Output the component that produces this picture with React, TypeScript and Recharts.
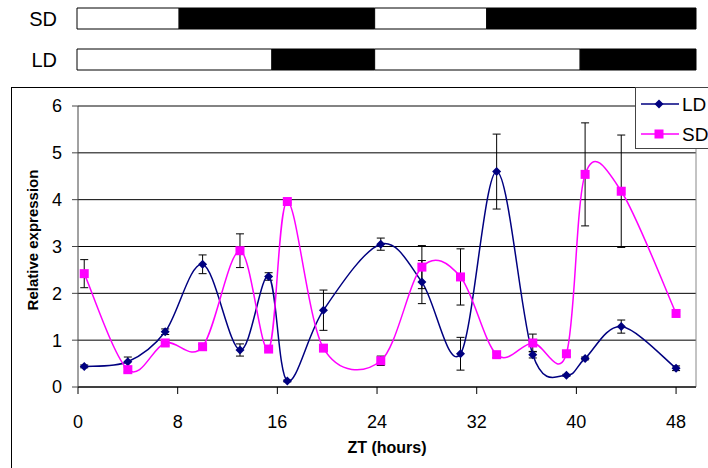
import {
  BarChart,
  Bar,
  LineChart,
  Line,
  XAxis,
  YAxis,
  CartesianGrid,
  ErrorBar,
  ReferenceLine,
  Legend,
} from 'recharts';

// sampling times (ZT hours) and expression values
const hours = [0.5, 4, 7, 10, 13, 15.3, 16.8, 19.7, 24.3, 27.6, 30.7, 33.6, 36.5, 39.2, 40.7, 43.6, 48];
const ldValues = [0.44, 0.54, 1.18, 2.62, 0.79, 2.36, 0.13, 1.64, 3.05, 2.24, 0.71, 4.6, 0.69, 0.25, 0.61, 1.29, 0.4];
const ldErrors = [0.03, 0.1, 0.06, 0.2, 0.13, 0.08, 0.02, 0.43, 0.13, 0.46, 0.35, 0.8, 0.07, 0.02, 0.03, 0.14, 0.05];
const sdValues = [2.42, 0.37, 0.94, 0.86, 2.91, 0.81, 3.96, 0.83, 0.56, 2.56, 2.35, 0.69, 0.94, 0.71, 4.54, 4.18, 1.57];
const sdErrors = [0.3, 0.05, 0.05, 0.05, 0.36, 0.04, 0.03, 0.06, 0.1, 0.46, 0.6, 0.06, 0.19, 0.06, 1.1, 1.2, 0.05];

const xTicks = [0, 8, 16, 24, 32, 40, 48];
const yTicks = [0, 1, 2, 3, 4, 5, 6];

// light / dark bars above the plot (hours): light, dark, light, dark
const photoRows = ['SD', 'LD'];
const sdSegments = [8.2, 15.7, 9.0, 16.8];
const ldSegments = [15.65, 8.25, 16.5, 9.3];
const segmentFills = ['#fff', '#000', '#fff', '#000'];

const FONT = '"Liberation Sans", Arial, sans-serif';
const NAVY = '#000080';
const MAGENTA = '#ff00ff';

const chartData = hours.map((zt, i) => ({
  zt,
  ld: ldValues[i],
  ldErr: ldErrors[i],
  sd: sdValues[i],
  sdErr: sdErrors[i],
}));

const photoData = photoRows.map(name => {
  const segs = name === 'SD' ? sdSegments : ldSegments;
  return { name, s0: segs[0], s1: segs[1], s2: segs[2], s3: segs[3] };
});

// Excel-like smoothed line (Catmull-Rom as cubic beziers)
function excelCurve(context: any) {
  let pts: number[][] = [];
  return {
    areaStart() {},
    areaEnd() {},
    lineStart() {
      pts = [];
    },
    point(x: number, y: number) {
      pts.push([+x, +y]);
    },
    lineEnd() {
      const n = pts.length;
      if (!n) return;
      context.moveTo(pts[0][0], pts[0][1]);
      for (let i = 0; i < n - 1; i++) {
        const p0 = pts[Math.max(i - 1, 0)];
        const p1 = pts[i];
        const p2 = pts[i + 1];
        const p3 = pts[Math.min(i + 2, n - 1)];
        context.bezierCurveTo(
          p1[0] + (p2[0] - p0[0]) / 6,
          p1[1] + (p2[1] - p0[1]) / 6,
          p2[0] - (p3[0] - p1[0]) / 6,
          p2[1] - (p3[1] - p1[1]) / 6,
          p2[0],
          p2[1]
        );
      }
    },
  };
}

const diamondDot = (props: any) => {
  const { cx, cy, index } = props;
  if (cx == null || cy == null) return <g key={`ld-${index}`} />;
  const r = 4.5;
  return (
    <path
      key={`ld-${index}`}
      d={`M${cx},${cy - r}L${cx + r},${cy}L${cx},${cy + r}L${cx - r},${cy}Z`}
      fill={NAVY}
    />
  );
};

const squareDot = (props: any) => {
  const { cx, cy, index } = props;
  if (cx == null || cy == null) return <g key={`sd-${index}`} />;
  return <rect key={`sd-${index}`} x={cx - 4.5} y={cy - 4.5} width={9} height={9} fill={MAGENTA} />;
};

const renderLegend = () => (
  <svg width={100} height={62} style={{ display: 'block', background: '#fff' }}>
    <rect x={0.5} y={0.5} width={110} height={61} fill="#fff" stroke="#444" />
    <line x1={6} y1={17} x2={44} y2={17} stroke={NAVY} strokeWidth={1.5} />
    <path d="M24,12.5L28.5,17L24,21.5L19.5,17Z" fill={NAVY} />
    <text x={47} y={24} fontSize={19} fontFamily={FONT} fill="#000">
      LD
    </text>
    <line x1={6} y1={47} x2={44} y2={47} stroke={MAGENTA} strokeWidth={1.5} />
    <rect x={19.5} y={42.5} width={9} height={9} fill={MAGENTA} />
    <text x={47} y={54} fontSize={19} fontFamily={FONT} fill="#000">
      SD
    </text>
  </svg>
);

export default function App() {
  return (
    <div
      style={{
        position: 'absolute',
        left: 0,
        top: 0,
        width: 708,
        height: 468,
        overflow: 'hidden',
        background: '#fff',
        fontFamily: FONT,
      }}
    >
      <div style={{ position: 'absolute', left: 0, top: -2 }}>
        <BarChart
          width={708}
          height={82}
          data={photoData}
          layout="vertical"
          margin={{ top: 0, right: 12, bottom: 0, left: 0 }}
        >
          <XAxis type="number" hide domain={[0, 49.7]} />
          <YAxis
            type="category"
            dataKey="name"
            width={77}
            tickLine={false}
            axisLine={false}
            tickSize={0}
            tickMargin={20}
            tick={{ fontSize: 20, fill: '#000', fontFamily: FONT }}
          />
          {['s0', 's1', 's2', 's3'].map((key, i) => (
            <Bar
              key={key}
              dataKey={key}
              stackId="photo"
              barSize={21}
              fill={segmentFills[i]}
              stroke="#000"
              strokeWidth={1}
              isAnimationActive={false}
            />
          ))}
        </BarChart>
      </div>

      {/* outer chart frame */}
      <div
        style={{
          position: 'absolute',
          left: 11,
          top: 87,
          width: 800,
          height: 500,
          border: '1px solid #000',
        }}
      />

      <div style={{ position: 'absolute', left: 0, top: 80 }}>
        <LineChart
          width={708}
          height={388}
          data={chartData}
          margin={{ top: 26, right: 12, bottom: 0, left: 0 }}
        >
          <CartesianGrid vertical={false} stroke="#000" />
          <ReferenceLine y={6} stroke="#888" />
          <ReferenceLine x={49.6} stroke="#888" />
          <XAxis
            dataKey="zt"
            type="number"
            domain={[0, 49.6]}
            ticks={xTicks}
            interval={0}
            height={81}
            tickSize={7}
            tickMargin={21}
            stroke="#000"
            tick={{ fontSize: 18, fill: '#000', fontFamily: FONT }}
            label={{
              content: () => (
                <text
                  x={387}
                  y={373}
                  textAnchor="middle"
                  fontSize={16}
                  fontWeight="bold"
                  fontFamily={FONT}
                  fill="#000"
                >
                  ZT (hours)
                </text>
              ),
            }}
          />
          <YAxis
            type="number"
            domain={[0, 6]}
            ticks={yTicks}
            interval={0}
            width={78}
            tickSize={6}
            tickMargin={10}
            stroke="#444"
            tick={{ fontSize: 18, fill: '#000', fontFamily: FONT }}
            label={{
              content: () => (
                <text
                  x={38}
                  y={160}
                  transform="rotate(-90 38 160)"
                  textAnchor="middle"
                  fontSize={15}
                  fontWeight="bold"
                  fontFamily={FONT}
                  fill="#000"
                >
                  Relative expression
                </text>
              ),
            }}
          />
          <Legend
            layout="vertical"
            align="center"
            verticalAlign="middle"
            content={renderLegend}
            wrapperStyle={{ left: 635, top: 7, width: 100, height: 62 }}
          />
          <Line
            dataKey="ld"
            name="LD"
            type={excelCurve as any}
            stroke={NAVY}
            strokeWidth={1.5}
            dot={diamondDot}
            activeDot={false}
            isAnimationActive={false}
          >
            <ErrorBar dataKey="ldErr" direction="y" width={4} stroke="#000" strokeWidth={1} />
          </Line>
          <Line
            dataKey="sd"
            name="SD"
            type={excelCurve as any}
            stroke={MAGENTA}
            strokeWidth={1.5}
            dot={squareDot}
            activeDot={false}
            isAnimationActive={false}
          >
            <ErrorBar dataKey="sdErr" direction="y" width={4} stroke="#000" strokeWidth={1} />
          </Line>
        </LineChart>
      </div>
    </div>
  );
}
